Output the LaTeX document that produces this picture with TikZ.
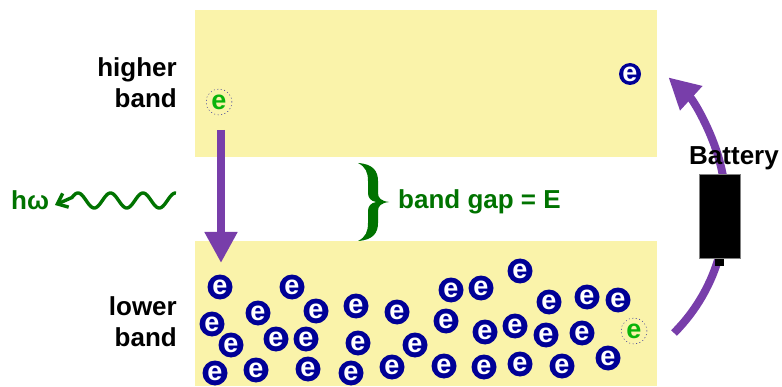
\documentclass[tikz,border=0pt]{standalone}
\usepackage{fontspec}
\setsansfont{Liberation Sans}
\usetikzlibrary{arrows.meta}

\definecolor{bandyellow}{RGB}{250,243,170}
\definecolor{elblue}{RGB}{0,0,150}
\definecolor{elgreen}{RGB}{10,180,10}
\definecolor{txtgreen}{RGB}{0,115,0}
\definecolor{arrpurple}{RGB}{120,62,170}

\tikzset{
  label/.style={inner sep=0pt, align=right, font=\fontsize{26}{31}\selectfont\sffamily\bfseries},
  electron/.style={circle, fill=elblue, minimum size=25pt, inner sep=0pt, text=white,
    font=\fontsize{27}{27}\selectfont\sffamily\bfseries},
  excited/.style={circle, draw=elblue, dash pattern=on 1pt off 2.5pt, minimum size=26pt, inner sep=0pt,
    text=elgreen, font=\fontsize{27}{27}\selectfont\sffamily\bfseries},
  transfer/.style={arrpurple, line width=8pt, -{Triangle[width=31pt,length=31pt]}},
}

\begin{document}
\begin{tikzpicture}[x=1pt, y=1pt]
  \useasboundingbox (0,0) rectangle (782,386); % 画像の大きさ

  \fill[bandyellow] (195,229) rectangle (657,376); % higher band
  \fill[bandyellow] (195,0) rectangle (657,145);   % lower band

  \node[label, anchor=east] (hi) at (177,303) {higher\\band};
  \node[label, anchor=east] (lo) at (177,64) {lower\\band};

  % 電子
  \foreach \ex/\ey in {220/99, 292/99, 258/73, 316/75, 356/80, 397/74, 451/96, 481/98,
      212/62, 446/65, 231/41, 276/47, 306/47, 358/43, 415/41, 215/13, 256/16, 308/17,
      351/13, 392/19, 444/20, 484/19, 520/115, 549/84, 587/89, 618/86, 485/54, 515/60,
      546/51, 582/53, 520/22, 562/20, 608/28}
    \node[electron] at (\ex,\ey) {e};
  \node[electron, minimum size=22pt] (top) at (630,312) {e};
  \node[excited] (eup) at (219,284) {e};
  \node[excited] (elow) at (634,55) {e};

  % 遷移の矢印
  \coordinate (dtop) at (221,256);
  \coordinate (dend) at (221,123);
  \draw[transfer] (dtop) -- (dend);

  % 光子
  \coordinate (hwtip) at (55,181);
  \draw[txtgreen, line width=3.4pt, line join=round, -{Straight Barb[length=9pt,width=15pt]}]
    plot[domain=176:72, samples=120] (\x, {185.5+7.5*cos((\x-78)/32.5*360)}) -- (hwtip);
  \node[label, text=txtgreen, anchor=base west] (hw) at (11,176) {hω};

  % band gap
  \fill[txtgreen] (358,223) .. controls (373,222) and (378,215) .. (378,205) -- (378,193)
    .. controls (378,188) and (381,185) .. (389,184)
    .. controls (381,183) and (378,180) .. (378,175) -- (378,163)
    .. controls (378,153) and (373,146) .. (358,145)
    .. controls (366,149) and (368,155) .. (368,163) -- (368,175)
    .. controls (368,180) and (371,183) .. (376,184)
    .. controls (371,185) and (368,188) .. (368,193) -- (368,205)
    .. controls (368,213) and (366,219) .. (358,223) -- cycle;
  \node[label, text=txtgreen, anchor=base west] (gap) at (398,177) {band gap = E};

  % バッテリー
  \draw[transfer] (674,53) arc[start angle=-45, end angle=47.5, radius=177];
  \fill[black] (715,120) rectangle (724,130);
  \node[draw=gray, fill=black, minimum width=41pt, minimum height=84pt, inner sep=0pt] (bat) at (719.5,170) {};
  \node[label, anchor=base west] (battxt) at (689,221) {Battery};
\end{tikzpicture}
\end{document}
